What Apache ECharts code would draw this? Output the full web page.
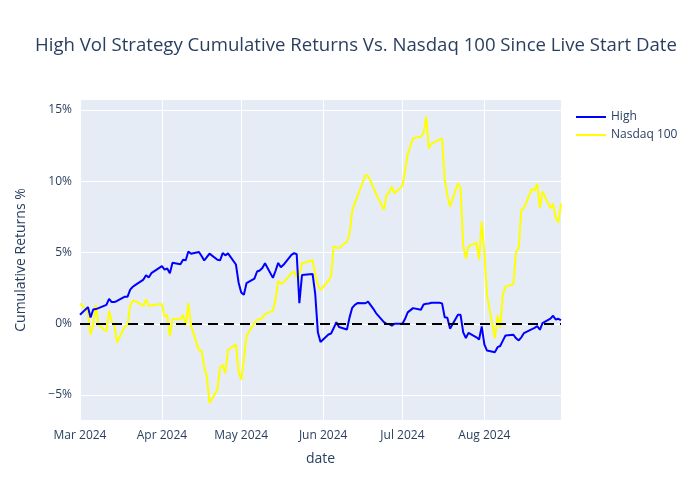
<!DOCTYPE html>
<html>
<head>
<meta charset="utf-8">
<script src="https://cdn.jsdelivr.net/npm/echarts@6/dist/echarts.min.js"></script>
<style>html,body{margin:0;padding:0;background:#fff}#c{width:700px;height:500px}</style>
</head>
<body>
<div id="c"></div>
<script>
const titleText = 'High Vol Strategy Cumulative Returns Vs. Nasdaq 100 Since Live Start Date';
const dates = [
 '2024-03-01','2024-03-04','2024-03-05','2024-03-06','2024-03-07','2024-03-08','2024-03-11','2024-03-12','2024-03-13','2024-03-14','2024-03-15','2024-03-18','2024-03-19','2024-03-20','2024-03-21','2024-03-22','2024-03-25','2024-03-26','2024-03-27','2024-03-28',
 '2024-04-01','2024-04-02','2024-04-03','2024-04-04','2024-04-05','2024-04-08','2024-04-09','2024-04-10','2024-04-11','2024-04-12','2024-04-15','2024-04-16','2024-04-17','2024-04-18','2024-04-19','2024-04-22','2024-04-23','2024-04-24','2024-04-25','2024-04-26','2024-04-29','2024-04-30',
 '2024-05-01','2024-05-02','2024-05-03','2024-05-06','2024-05-07','2024-05-08','2024-05-09','2024-05-10','2024-05-13','2024-05-14','2024-05-15','2024-05-16','2024-05-17','2024-05-20','2024-05-21','2024-05-22','2024-05-23','2024-05-24','2024-05-28','2024-05-29','2024-05-30','2024-05-31',
 '2024-06-03','2024-06-04','2024-06-05','2024-06-06','2024-06-07','2024-06-10','2024-06-11','2024-06-12','2024-06-13','2024-06-14','2024-06-17','2024-06-18','2024-06-20','2024-06-21','2024-06-24','2024-06-25','2024-06-26','2024-06-27','2024-06-28',
 '2024-07-01','2024-07-02','2024-07-03','2024-07-05','2024-07-08','2024-07-09','2024-07-10','2024-07-11','2024-07-12','2024-07-15','2024-07-16','2024-07-17','2024-07-18','2024-07-19','2024-07-22','2024-07-23','2024-07-24','2024-07-25','2024-07-26','2024-07-29','2024-07-30','2024-07-31',
 '2024-08-01','2024-08-02','2024-08-05','2024-08-06','2024-08-07','2024-08-08','2024-08-09','2024-08-12','2024-08-13','2024-08-14','2024-08-15','2024-08-16','2024-08-19','2024-08-20','2024-08-21','2024-08-22','2024-08-23','2024-08-26','2024-08-27','2024-08-28','2024-08-29','2024-08-30'
];
const high = [
 0.63,1.17,0.44,1.0,1.03,1.1,1.33,1.75,1.52,1.52,1.6,1.9,1.9,2.4,2.6,2.73,3.1,3.4,3.25,3.55,
 4.04,3.8,3.88,3.55,4.28,4.18,4.49,4.46,5.07,4.92,5.04,4.75,4.44,4.68,4.92,4.49,4.45,4.96,4.8,4.94,4.16,2.9,
 2.2,2.03,2.85,3.17,3.67,3.74,3.92,4.25,3.22,3.72,4.27,3.97,4.14,4.84,4.96,4.88,1.45,3.42,3.5,2.1,-0.6,-1.28,
 -0.75,-0.68,-0.3,0.11,-0.23,-0.4,0.45,1.12,1.33,1.45,1.44,1.55,1.05,0.75,0.12,0.0,-0.02,-0.13,0.0,
 0.0,0.35,0.8,1.1,0.98,1.35,1.4,1.42,1.48,1.48,1.43,0.46,0.42,-0.34,0.63,0.63,-0.6,-1.0,-0.64,-0.95,-1.1,-0.19,
 -1.45,-1.88,-1.99,-1.64,-1.56,-1.18,-0.82,-0.77,-1.02,-1.17,-0.95,-0.65,-0.38,-0.28,-0.17,-0.42,0.05,0.36,0.56,0.3,0.35,0.26
];
const nasdaq = [
 1.42,0.86,-0.77,-0.07,1.33,-0.07,-0.54,0.91,0.16,-0.12,-1.3,-0.19,-0.07,1.3,1.6,1.6,1.26,1.72,1.25,1.3,
 1.38,0.51,0.63,-0.89,0.33,0.32,0.63,-0.13,1.45,-0.13,-1.85,-1.88,-3.06,-3.68,-5.56,-4.62,-3.05,-2.9,-3.46,-1.82,-1.45,-3.34,
 -3.93,-2.5,-0.86,0.07,0.3,0.3,0.4,0.68,0.92,1.7,3.0,2.83,2.9,3.55,3.67,3.22,3.45,4.25,4.46,3.5,2.73,2.38,
 3.0,3.37,5.42,5.36,5.3,5.77,6.3,7.93,8.5,8.93,10.44,10.37,9.57,9.12,7.99,9.04,9.21,9.63,9.16,
 9.67,10.75,11.9,13.01,13.13,13.36,14.53,12.31,12.62,12.92,13.01,10.09,9.04,8.22,9.86,9.51,5.5,4.58,5.42,5.7,4.5,7.17,
 5.03,1.98,-1.0,0.6,-0.27,2.05,2.6,2.78,5.07,5.3,7.99,8.14,9.48,9.33,9.83,8.11,9.28,8.11,8.43,7.43,7.12,8.43
];
const yTicks = [-5, 0, 5, 10, 15];
const xTickLabels = ['2024-03-01','2024-04-01','2024-05-01','2024-06-01','2024-07-01','2024-08-01'];
const xRange = ['2024-03-01', '2024-08-30'];
const monthNames = ['Jan','Feb','Mar','Apr','May','Jun','Jul','Aug','Sep','Oct','Nov','Dec'];

const txt = '#2a3f5f';
const font = '"Open Sans", "Noto Sans", sans-serif';
const chart = echarts.init(document.getElementById('c'), null, {renderer: 'canvas'});
const toTs = s => +new Date(s + 'T00:00:00Z');
const xTickTs = xTickLabels.map(toTs);

chart.setOption({
  animation: false,
  backgroundColor: '#ffffff',
  textStyle: {fontFamily: font},
  title: {
    text: titleText,
    left: 30, top: 31,
    textStyle: {color: txt, fontSize: 18.6, fontWeight: 'normal', fontFamily: font}
  },
  legend: {
    orient: 'vertical',
    left: 571, top: 106,
    itemWidth: 30, itemHeight: 2, itemGap: 6,
    icon: 'rect',
    textStyle: {color: txt, fontSize: 12, fontFamily: font},
    data: ['High', 'Nasdaq 100']
  },
  grid: {left: 80, right: 139, top: 100, bottom: 80, show: true, backgroundColor: '#E5ECF6', borderWidth: 0},
  xAxis: {
    type: 'value',
    min: toTs(xRange[0]), max: toTs(xRange[1]),
    name: 'date', nameLocation: 'middle', nameGap: 32,
    nameTextStyle: {color: txt, fontSize: 14, fontFamily: font},
    axisLine: {show: false}, axisTick: {show: false, customValues: xTickTs},
    axisLabel: {
      customValues: xTickTs, color: txt, fontSize: 12, margin: 10, fontFamily: font,
      showMinLabel: true, showMaxLabel: true,
      formatter: v => { const d = new Date(v); return monthNames[d.getUTCMonth()] + ' ' + d.getUTCFullYear(); }
    },
    splitLine: {show: true, lineStyle: {color: '#ffffff', width: 1}}
  },
  yAxis: {
    type: 'value',
    min: -6.75, max: 15.7,
    name: 'Cumulative Returns %', nameLocation: 'middle', nameGap: 52,
    nameTextStyle: {color: txt, fontSize: 14, fontFamily: font},
    axisLine: {show: false}, axisTick: {show: false, customValues: yTicks},
    axisLabel: {
      customValues: yTicks, color: txt, fontSize: 12, margin: 8, fontFamily: font,
      formatter: v => (v < 0 ? '\u2212' + Math.abs(v) : String(v)) + '%'
    },
    splitLine: {show: true, lineStyle: {color: '#ffffff', width: 1}}
  },
  series: [
    {
      name: 'High', type: 'line', showSymbol: false, symbol: 'none',
      lineStyle: {color: '#0000ff', width: 2}, itemStyle: {color: '#0000ff'},
      data: dates.map((d, i) => [toTs(d), high[i]]),
      z: 3
    },
    {
      name: 'Nasdaq 100', type: 'line', showSymbol: false, symbol: 'none',
      lineStyle: {color: '#ffff00', width: 2}, itemStyle: {color: '#ffff00'},
      data: dates.map((d, i) => [toTs(d), nasdaq[i]]),
      z: 2,
      markLine: {
        silent: true, symbol: 'none', label: {show: false},
        lineStyle: {color: '#000000', width: 2, type: [10, 6]},
        data: [{yAxis: 0}],
        z: 4
      }
    }
  ]
});
</script>
</body>
</html>
